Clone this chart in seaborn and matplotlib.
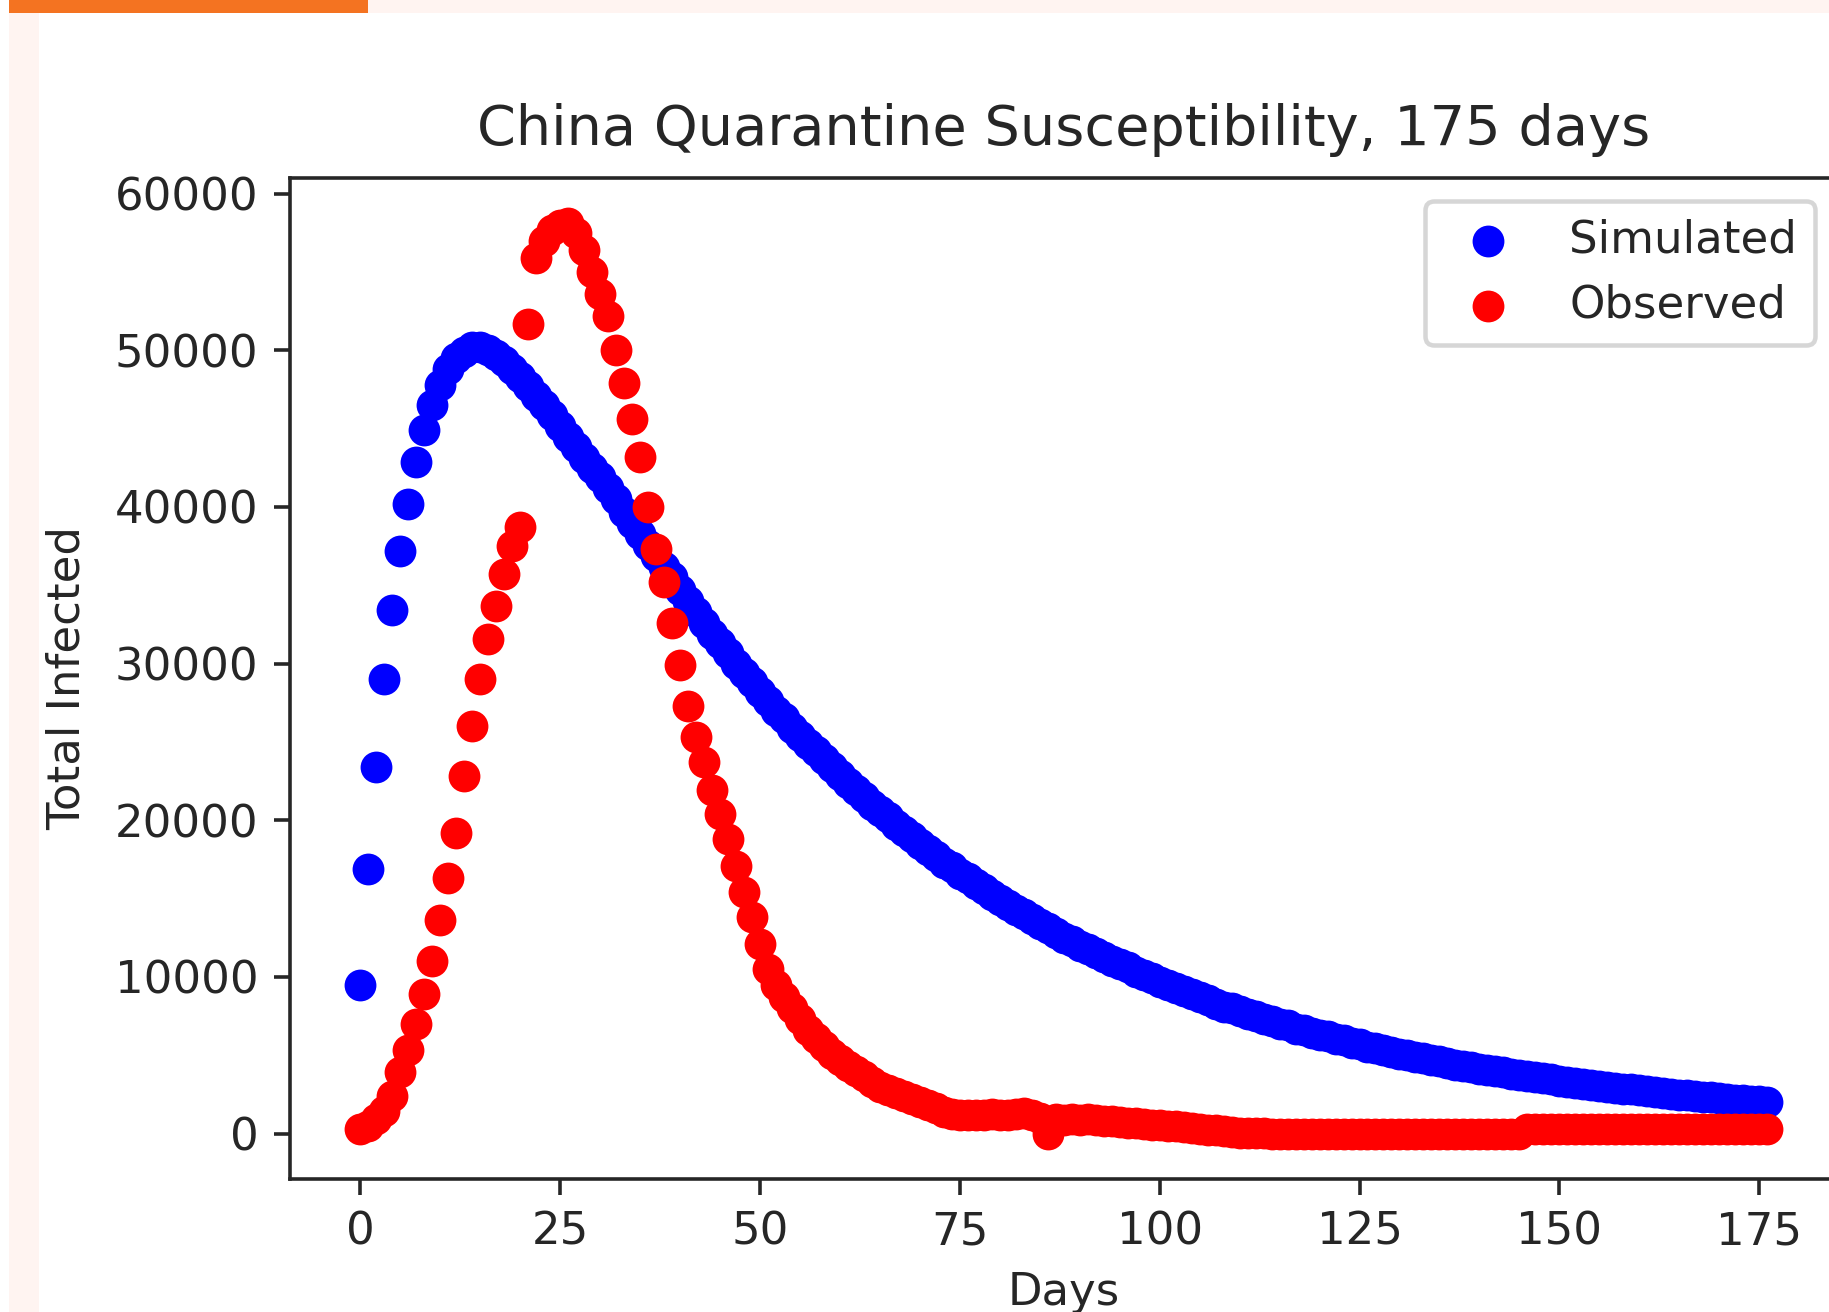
import matplotlib
matplotlib.use("Agg")
import matplotlib.pyplot as plt
from matplotlib.patches import Rectangle
import pandas as pd
import seaborn as sns

# values, one per day
days = list(range(177))

simulated = [
    9500, 16900, 23400, 29000, 33400, 37200, 40200, 42900, 44900, 46500,
    47800, 48800, 49500, 49900, 50200, 50200, 50000, 49700, 49300, 48800,
    48300, 47700, 47100, 46500, 45900, 45200, 44500, 43800, 43100, 42500,
    41900, 41200, 40500, 39700, 39000, 38300, 37600, 36900, 36200, 35500,
    34700, 34000, 33300, 32600, 31900, 31300, 30700, 30000, 29400, 28800,
    28200, 27600, 27000, 26500, 25900, 25400, 24900, 24400, 23900, 23400,
    22900, 22400, 21900, 21500, 21000, 20600, 20200, 19700, 19300, 18900,
    18500, 18100, 17700, 17300, 17000, 16600, 16300, 15900, 15600, 15200,
    14900, 14600, 14300, 14000, 13700, 13400, 13100, 12800, 12500, 12300,
    12000, 11800, 11500, 11300, 11000, 10800, 10600, 10300, 10100, 9900,
    9700, 9500, 9300, 9100, 8900, 8700, 8500, 8300, 8100, 8000,
    7800, 7600, 7500, 7300, 7200, 7000, 6900, 6700, 6600, 6400,
    6300, 6200, 6050, 5950, 5800, 5700, 5550, 5450, 5350, 5200,
    5100, 5000, 4900, 4800, 4700, 4600, 4500, 4400, 4320, 4230,
    4150, 4070, 3990, 3910, 3830, 3750, 3670, 3600, 3520, 3450,
    3380, 3310, 3240, 3180, 3110, 3050, 2990, 2930, 2870, 2810,
    2750, 2700, 2640, 2590, 2530, 2480, 2430, 2390, 2340, 2300,
    2250, 2210, 2170, 2130, 2090, 2050, 2000,
]

observed = [
    300, 450, 900, 1450, 2400, 3950, 5350, 7000, 8900, 11000,
    13600, 16300, 19200, 22800, 26000, 29000, 31600, 33700, 35700, 37500,
    38700, 51700, 55900, 57000, 57700, 58000, 58100, 57500, 56400, 55000,
    53600, 52200, 50000, 47900, 45600, 43200, 40000, 37300, 35200, 32600,
    29900, 27300, 25300, 23700, 21900, 20400, 18800, 17100, 15400, 13800,
    12100, 10500, 9500, 8700, 8000, 7300, 6600, 6100, 5600, 5100,
    4700, 4300, 4000, 3700, 3300, 3000, 2800, 2600, 2400, 2200,
    2000, 1800, 1600, 1400, 1250, 1200, 1150, 1150, 1200, 1250,
    1200, 1150, 1250, 1300, 1200, 1000, 0, 900, 850, 900,
    850, 900, 850, 800, 800, 750, 700, 650, 600, 550,
    550, 500, 450, 400, 350, 300, 250, 200, 150, 100,
    50, 30, 20, 10, 0, 0, 0, 0, 0, 0,
    0, 0, 0, 0, 0, 0, 0, 0, 0, 0,
    0, 0, 0, 0, 0, 0, 0, 0, 0, 0,
    0, 0, 0, 0, 0, 0, 300, 300, 300, 300,
    300, 300, 300, 300, 300, 300, 300, 300, 300, 300,
    300, 300, 300, 300, 300, 300, 300, 300, 300, 300,
    300, 300, 300, 300, 300, 300, 300,
]

sns.set_style("ticks")
plt.rcParams['font.family'] = ['DejaVu Sans']

W, H, DPI = 1829, 1312, 324
fig = plt.figure(figsize=(W / DPI, H / DPI), dpi=DPI)

# page background bits around the screenshot
fig.patches.append(Rectangle((9 / W, 0), 30 / W, 1, transform=fig.transFigure,
                             facecolor="#fff4f1", edgecolor="none"))
fig.patches.append(Rectangle((9 / W, 1 - 13 / H), 1, 13 / H, transform=fig.transFigure,
                             facecolor="#fff4f1", edgecolor="none"))
fig.patches.append(Rectangle((9 / W, 1 - 13 / H), 359 / W, 13 / H, transform=fig.transFigure,
                             facecolor="#f47321", edgecolor="none"))

# axes runs past the right edge, like the cropped original
ax = fig.add_axes([290 / W, 133 / H, 1547.5 / W, 1001 / H])

df = pd.DataFrame({"Days": days, "Simulated": simulated, "Observed": observed})
sns.scatterplot(data=df, x="Days", y="Simulated", color="blue", s=50,
                linewidth=0, label="Simulated", ax=ax)
sns.scatterplot(data=df, x="Days", y="Observed", color="red", s=50,
                linewidth=0, label="Observed", ax=ax)

ax.set_title("China Quarantine Susceptibility, 175 days", fontsize=12.4, pad=7.3)
ax.set_xlabel("Days")
ax.set_ylabel("Total Infected", labelpad=5.8)
ax.legend(loc="upper right")

fig.savefig("out.png", dpi=DPI)
